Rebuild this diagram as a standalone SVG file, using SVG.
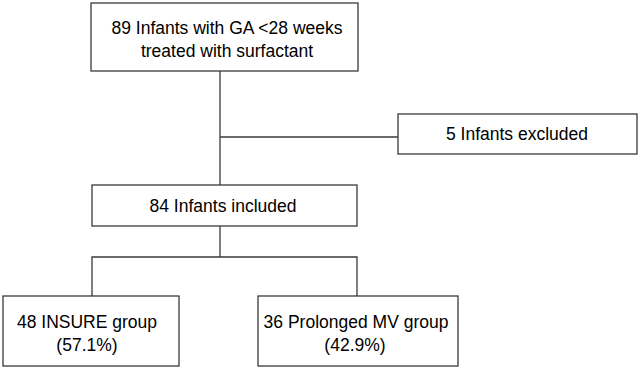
<svg xmlns="http://www.w3.org/2000/svg" width="641" height="372" viewBox="0 0 641 372">
<style>
.box{fill:#fff;stroke:#3a3a3a;stroke-width:1.3}
.ln{fill:none;stroke:#3a3a3a;stroke-width:1.3}
text{font-family:"Liberation Sans",Arial,sans-serif;font-size:17.5px;fill:#000;text-anchor:middle}
</style>
<rect width="641" height="372" fill="#fff"/>
<g id="connectors">
<path class="ln" d="M220 71V185"/>
<path class="ln" d="M220 137H398"/>
<path class="ln" d="M220 226V257"/>
<path class="ln" d="M92 296V257H357V296"/>
</g>
<g id="n1">
<rect class="box" x="91" y="3" width="267" height="68"/>
<text x="227" y="34">89 Infants with GA &lt;28 weeks</text>
<text x="227" y="57">treated with surfactant</text>
</g>
<g id="n2">
<rect class="box" x="398" y="114" width="239" height="40"/>
<text x="517" y="140">5 Infants excluded</text>
</g>
<g id="n3">
<rect class="box" x="92" y="185" width="265" height="41"/>
<text x="223" y="212">84 Infants included</text>
</g>
<g id="n4">
<rect class="box" x="3" y="296" width="176" height="70"/>
<text x="87" y="328">48 INSURE group</text>
<text x="87" y="351">(57.1%)</text>
</g>
<g id="n5">
<rect class="box" x="258" y="296" width="200" height="70"/>
<text x="356" y="328">36 Prolonged MV group</text>
<text x="355" y="351">(42.9%)</text>
</g>
</svg>
